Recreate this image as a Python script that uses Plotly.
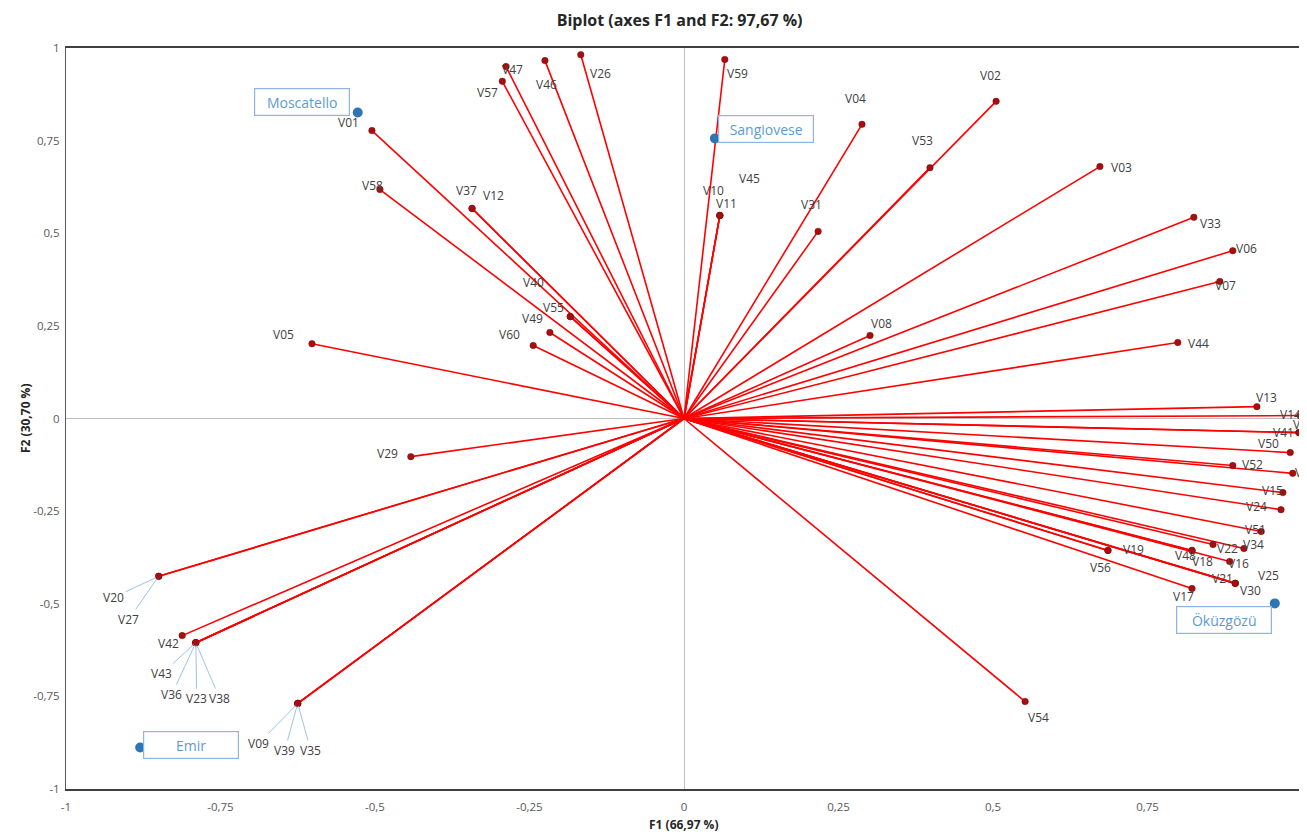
import plotly.graph_objects as go

# ---------------- data ----------------
var_names = ["V01","V02","V03","V04","V05","V06","V07","V08","V09","V10",
             "V11","V12","V13","V14","V15","V16","V17","V18","V19","V20",
             "V21","V22","V23","V24","V25","V26","V27","V28","V29","V30",
             "V31","V32","V33","V34","V35","V36","V37","V38","V39","V40",
             "V41","V42","V43","V44","V45","V46","V47","V48","V49","V50",
             "V51","V52","V53","V54","V55","V56","V57","V58","V59","V60"]
var_f1 = [-0.505, 0.505, 0.673, 0.288, -0.602, 0.888, 0.867, 0.301, -0.625, 0.058,
          0.058, -0.343, 0.927, 0.997, 0.969, 0.883, 0.822, 0.822, 0.686, -0.850,
          0.892, 0.856, -0.790, 0.966, 0.892, -0.167, -0.850, 0.995, -0.442, 0.892,
          0.217, 0.985, 0.825, 0.906, -0.625, -0.790, -0.343, -0.790, -0.625, -0.184,
          0.995, -0.812, -0.790, 0.799, 0.058, -0.225, -0.288, 0.822, -0.217, 0.981,
          0.934, 0.888, 0.398, 0.552, -0.184, 0.686, -0.294, -0.492, 0.066, -0.244]
var_f2 = [0.777, 0.856, 0.680, 0.794, 0.202, 0.453, 0.370, 0.224, -0.769, 0.548,
          0.548, 0.567, 0.032, 0.008, -0.200, -0.386, -0.459, -0.356, -0.356, -0.426,
          -0.445, -0.340, -0.605, -0.246, -0.445, 0.982, -0.426, -0.038, -0.103, -0.445,
          0.505, -0.148, 0.543, -0.351, -0.769, -0.605, 0.567, -0.605, -0.769, 0.275,
          -0.038, -0.586, -0.605, 0.205, 0.548, 0.966, 0.950, -0.356, 0.232, -0.092,
          -0.305, -0.127, 0.677, -0.764, 0.275, -0.356, 0.910, 0.618, 0.969, 0.197]

obs_names = ["Moscatello", "Sangiovese", "Öküzgözü", "Emir"]
obs_f1 = [-0.528, 0.050, 0.956, -0.880]
obs_f2 = [0.826, 0.756, -0.499, -0.888]

tick_vals = [-1, -0.75, -0.5, -0.25, 0, 0.25, 0.5, 0.75, 1]
tick_text = ["-1", "-0,75", "-0,5", "-0,25", "0", "0,25", "0,5", "0,75", "1"]

title_text = "Biplot (axes F1 and F2: 97,67 %)"
x_title = "F1 (66,97 %)"
y_title = "F2 (30,70 %)"

# ---------------- label placement (pixels: dx right, dy up) ----------------
label_offsets = {
    "V01": (-23, 8), "V02": (-6, 26), "V03": (22, -1), "V04": (-6, 26), "V05": (-28, 9),
    "V06": (14, 2), "V07": (6, -4), "V08": (11, 12), "V10": (-6, 25), "V11": (7, 12),
    "V12": (21, 13), "V13": (10, 9), "V14": (-10, 1), "V15": (-10, 2), "V16": (9, -2),
    "V17": (-9, -8), "V18": (10, -11), "V19": (26, 1), "V21": (-13, 5), "V22": (14, -4),
    "V24": (-24, 3), "V25": (33, 8), "V26": (20, -19), "V28": (5, 8), "V29": (-23, 3),
    "V30": (15, -7), "V31": (-7, 27), "V32": (13, 1), "V33": (17, -6), "V34": (10, 4),
    "V37": (-6, 18), "V40": (-37, 34), "V41": (-15, 0), "V42": (-14, -8), "V44": (21, -1),
    "V45": (30, 37), "V46": (2, -24), "V47": (6, -3), "V48": (-7, -5), "V49": (-17, 14),
    "V50": (-22, 9), "V51": (-6, 2), "V52": (20, 1), "V53": (-7, 27), "V54": (13, -16),
    "V55": (-17, 9), "V56": (-7, -17), "V57": (-15, -11), "V58": (-7, 4), "V59": (13, -14),
    "V60": (-24, 11),
}
# labels with leader lines (pixels: ax right, ay down)
leader_offsets = {
    "V20": (-45, 21), "V27": (-30, 43),
    "V43": (-34, 31), "V36": (-24, 52), "V23": (1, 56), "V38": (24, 56),
    "V09": (-39, 40), "V39": (-13, 47), "V35": (13, 47),
}
obs_offsets = {
    "Moscatello": (-56, 10), "Sangiovese": (51, 9), "Öküzgözü": (-51, -17), "Emir": (51, 3),
}

# ---------------- figure ----------------
fig = go.Figure()

line_x, line_y = [], []
for a, b in zip(var_f1, var_f2):
    line_x += [0, a, None]
    line_y += [0, b, None]

fig.add_trace(go.Scatter(x=line_x, y=line_y, mode="lines",
                         line=dict(color="#FF0000", width=1.6),
                         hoverinfo="skip", showlegend=False, cliponaxis=False))
fig.add_trace(go.Scatter(x=var_f1, y=var_f2, mode="markers", text=var_names,
                         marker=dict(color="#A50F0F", size=6.5,
                                     line=dict(color="#7A0A0A", width=0.5)),
                         showlegend=False, cliponaxis=False))
fig.add_trace(go.Scatter(x=obs_f1, y=obs_f2, mode="markers", text=obs_names,
                         marker=dict(color="#2E75B6", size=10),
                         showlegend=False, cliponaxis=False))

label_font = dict(family="Open Sans, Noto Sans, sans-serif", size=12, color="#404040")

annotations = []
for name, a, b in zip(var_names, var_f1, var_f2):
    if name in leader_offsets:
        ax, ay = leader_offsets[name]
        annotations.append(dict(x=a, y=b, xref="x", yref="y", text=name,
                                showarrow=True, arrowhead=0, arrowwidth=1,
                                arrowcolor="#9DC3E6", ax=ax, ay=ay, standoff=3,
                                font=label_font))
    else:
        dx, dy = label_offsets.get(name, (10, 0))
        annotations.append(dict(x=a, y=b, xref="x", yref="y", text=name,
                                showarrow=False, xshift=dx, yshift=dy,
                                font=label_font))

for name, a, b in zip(obs_names, obs_f1, obs_f2):
    dx, dy = obs_offsets[name]
    annotations.append(dict(x=a, y=b, xref="x", yref="y", text=name,
                            showarrow=False, xshift=dx, yshift=dy,
                            width=90, height=22, borderpad=2,
                            bordercolor="#8DB4E2", borderwidth=1.2, bgcolor="white",
                            font=dict(family="Open Sans, Noto Sans, sans-serif",
                                      size=14, color="#5B9BD5")))

# axis titles
annotations.append(dict(x=0.5, y=0, xref="paper", yref="paper", text="<b>" + x_title + "</b>",
                        showarrow=False, yshift=-35, yanchor="middle",
                        font=dict(family="Open Sans, sans-serif", size=12, color="#262626")))
annotations.append(dict(x=0, y=0.5, xref="paper", yref="paper", text="<b>" + y_title + "</b>",
                        showarrow=False, textangle=-90, xshift=-51,
                        font=dict(family="Open Sans, sans-serif", size=12, color="#262626")))

# the page has an 8px body margin, so the figure is sized to fit inside the window
fig.update_layout(
    width=1299, height=824,
    margin=dict(l=58, r=5, t=40, b=43),
    paper_bgcolor="white", plot_bgcolor="white",
    title=dict(text="<b>" + title_text + "</b>", x=0.517, xanchor="center",
               y=0.985, yanchor="middle",
               font=dict(family="Open Sans, sans-serif", size=16, color="#262626")),
    annotations=annotations,
    hovermode="closest",
)
fig.update_xaxes(range=[-1, 1], tickvals=tick_vals, ticktext=tick_text,
                 showgrid=False, zeroline=True, zerolinecolor="#BFBFBF", zerolinewidth=1,
                 showline=True, linecolor="#404040", linewidth=2, mirror=True,
                 ticks="", ticklen=0, ticklabelstandoff=6,
                 tickfont=dict(family="Open Sans, sans-serif", size=11.5, color="#595959"),
                 automargin=False)
fig.update_yaxes(range=[-1, 1], tickvals=tick_vals, ticktext=tick_text,
                 showgrid=False, zeroline=True, zerolinecolor="#BFBFBF", zerolinewidth=1,
                 showline=True, linecolor="#595959", linewidth=1, mirror=True,
                 ticks="", ticklen=0, ticklabelstandoff=3,
                 tickfont=dict(family="Open Sans, sans-serif", size=11.5, color="#595959"),
                 automargin=False)

fig.write_html("out.html")
